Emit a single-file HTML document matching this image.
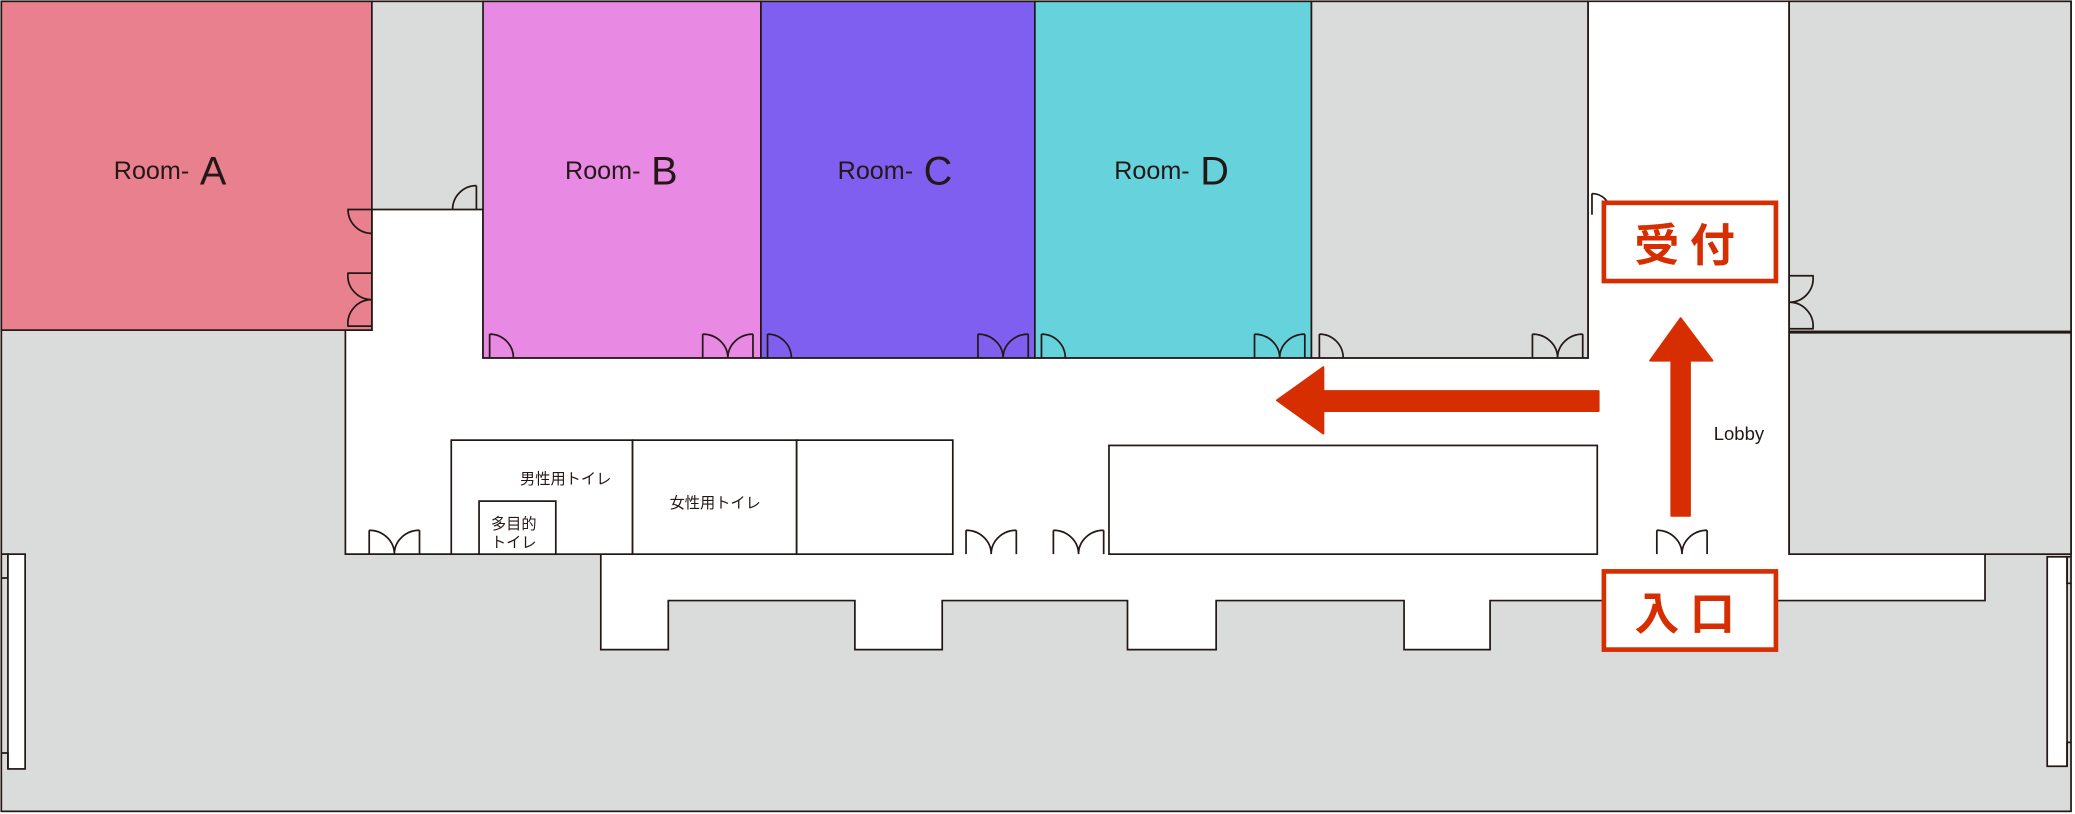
<!DOCTYPE html>
<html><head><meta charset="utf-8"><style>
html,body{margin:0;padding:0;background:#fff;}
svg{display:block;}
text{font-family:"Liberation Sans","Noto Sans CJK JP",sans-serif;fill:#231815;}
</style></head><body>
<svg width="2075" height="814" viewBox="0 0 1568 614" preserveAspectRatio="none" xmlns="http://www.w3.org/2000/svg">
<g stroke="#231815" stroke-width="1.3" fill="none">
<rect x="1" y="1" width="1564" height="611" fill="#dadcdb"/>
<!-- white corridors -->
<polygon points="281,158 365,158 365,270 1200,270 1200,1 1352,1 1352,418 1500,418 1500,453 1126,453 1126,490 1061,490 1061,453 919,453 919,490 852,490 852,453 712,453 712,490 646,490 646,453 505,453 505,490 454,490 454,418 261,418 261,249 281,249" fill="#fff"/>
<rect x="1" y="1" width="280" height="248" fill="#e9808e"/>
<rect x="365" y="1" width="210" height="269" fill="#e889e3"/>
<rect x="575" y="1" width="207" height="269" fill="#7f5fef"/>
<rect x="782" y="1" width="209" height="269" fill="#66d2db"/>
<rect x="991" y="1" width="209" height="269" fill="#dadcdb"/>
<rect x="1352" y="1" width="213" height="249" fill="#dadcdb"/>
<rect x="1352" y="251" width="213" height="167" fill="#dadcdb"/>
<!-- toilets -->
<rect x="341" y="332" width="137" height="86" fill="#fff"/>
<rect x="478" y="332" width="124" height="86" fill="#fff"/>
<rect x="602" y="332" width="118" height="86" fill="#fff"/>
<rect x="362" y="378" width="58" height="40" fill="#fff"/>
<rect x="838" y="336" width="369" height="82" fill="#fff"/>
<!-- side slots -->
<polyline points="1,418 6,418 6,436 1,436" fill="none"/>
<rect x="6" y="418" width="13" height="162" fill="#fff"/>
<polyline points="1,568 6,568 6,580" />
<rect x="1547" y="420" width="15" height="158" fill="#fff"/>
<polyline points="1565,420 1562,420 1562,440 1565,440"/>
<polyline points="1565,560 1562,560 1562,578"/>
<!-- doors: double at bottom of rooms y=270 -->
<g id="dd">
<path d="M531,252 V270 M569,252 V270 M531,252 A19,18 0 0 1 550,270 M569,252 A19,18 0 0 0 550,270"/>
</g>
<use href="#dd" x="208"/><use href="#dd" x="417"/><use href="#dd" x="627"/>
<use href="#dd" x="-252" y="148"/><use href="#dd" x="199" y="148"/><use href="#dd" x="265" y="148"/><use href="#dd" x="721" y="148"/>
<g id="sd"><path d="M370,252 V270 M370,252 A18,18 0 0 1 388,270"/></g>
<use href="#sd" x="210"/><use href="#sd" x="417"/><use href="#sd" x="627"/>
<!-- Room A side doors -->
<path d="M281,158 H263 A18,18 0 0 0 281,176"/>
<path d="M281,206 H263 A18,18 0 0 0 281,226 A18,18 0 0 0 263,246 H281"/>
<path d="M360,140 V158 M360,140 A18,18 0 0 0 342,158"/>
<path d="M1203,146 V162 M1203,146 A14,14 0 0 1 1217,160"/>
<path d="M1352,208 H1370 A18,18 0 0 1 1352,228 A18,18 0 0 1 1370,248 H1352"/>
</g>
<!-- labels -->
<text x="86" y="135" font-size="19">Room-</text><text x="151" y="139" font-size="30">A</text>
<text x="427" y="135" font-size="19">Room-</text><text x="492" y="139" font-size="30">B</text>
<text x="633" y="135" font-size="19">Room-</text><text x="698" y="139" font-size="30">C</text>
<text x="842" y="135" font-size="19">Room-</text><text x="907" y="139" font-size="30">D</text>
<text x="393" y="365" font-size="11.5">男性用トイレ</text>
<text x="506" y="383" font-size="11.5">女性用トイレ</text>
<text x="371" y="399" font-size="11.5">多目的</text>
<text x="371" y="413" font-size="11.5">トイレ</text>
<text x="1295" y="332" font-size="14">Lobby</text>
<!-- red -->
<rect x="1212" y="153" width="130" height="59" fill="#fff" stroke="#d62e00" stroke-width="3.5"/>
<text x="1277" y="197" font-size="34" font-weight="bold" text-anchor="middle" style="fill:#d62e00" letter-spacing="8">受付</text>
<rect x="1212" y="431" width="130" height="59" fill="#fff" stroke="#d62e00" stroke-width="3.5"/>
<text x="1277" y="475" font-size="34" font-weight="bold" text-anchor="middle" style="fill:#d62e00" letter-spacing="8">入口</text>
<path d="M1208,295 V310 H1000 V327 L965,302 L1000,277 V295 Z" fill="#d62e00" stroke="#d62e00" stroke-width="1.5" stroke-linejoin="round"/>
<path d="M1263,389 H1277 V272 H1294 L1270,240 L1247,272 H1263 Z" fill="#d62e00" stroke="#d62e00" stroke-width="1.5" stroke-linejoin="round"/>
</svg>
</body></html>
